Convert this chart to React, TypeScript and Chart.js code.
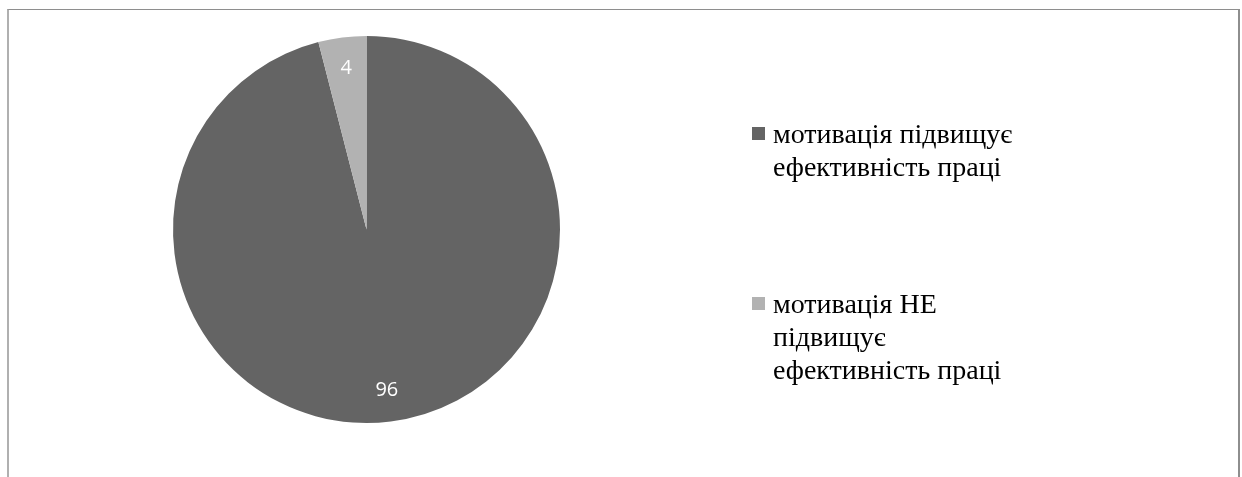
import React, { useEffect, useRef } from "react";
import { Chart, registerables } from "chart.js";

Chart.register(...registerables);

// Survey answers (percent of respondents)
const categories = [
  "мотивація підвищує ефективність праці",
  "мотивація НЕ підвищує ефективність праці",
];
const values = [96, 4];
const sliceColors = ["#646464", "#b2b2b2"];
// How each legend entry wraps onto lines
const legendLines = [
  ["мотивація підвищує", "ефективність праці"],
  ["мотивація НЕ", "підвищує", "ефективність праці"],
];

const W = 1242;
const H = 477;
const LABEL_FONT = '20px "Open Sans"';

// Legend geometry (text baselines of each entry's first line)
const LEGEND_MARK_X = 752;
const LEGEND_TEXT_X = 773;
const LEGEND_LINE_H = 33;
const LEGEND_BASELINES = [143, 313];

// White value labels placed inside each slice
const sliceLabels = {
  id: "sliceLabels",
  afterDatasetsDraw(chart: any) {
    const ctx = chart.ctx;
    const meta = chart.getDatasetMeta(0);
    ctx.save();
    ctx.fillStyle = "#ffffff";
    ctx.font = LABEL_FONT;
    ctx.textAlign = "center";
    ctx.textBaseline = "middle";
    meta.data.forEach((arc: any, i: number) => {
      const p = arc.getProps(["x", "y", "startAngle", "endAngle", "outerRadius"], true);
      const mid = (p.startAngle + p.endAngle) / 2;
      const r = p.outerRadius * 0.84;
      ctx.fillText(String(chart.data.datasets[0].data[i]), p.x + Math.cos(mid) * r, p.y + Math.sin(mid) * r);
    });
    ctx.restore();
  },
};

function Legend() {
  return (
    <div style={{ position: "absolute", left: 0, top: 0, pointerEvents: "none" }}>
      {legendLines.map((lines, i) => (
        <React.Fragment key={categories[i]}>
          <div
            style={{
              position: "absolute",
              left: LEGEND_MARK_X,
              top: LEGEND_BASELINES[i] - 16,
              width: 13,
              height: 13,
              background: sliceColors[i],
            }}
          />
          {lines.map((t, j) => (
            <div
              key={j}
              style={{
                position: "absolute",
                left: LEGEND_TEXT_X,
                top: LEGEND_BASELINES[i] - 26 + j * LEGEND_LINE_H,
                fontFamily: '"Liberation Serif"',
                fontSize: 28,
                lineHeight: LEGEND_LINE_H + "px",
                color: "#000000",
                whiteSpace: "nowrap",
              }}
            >
              {t}
            </div>
          ))}
        </React.Fragment>
      ))}
    </div>
  );
}

export default function App() {
  const ref = useRef<HTMLCanvasElement | null>(null);

  useEffect(() => {
    if (!ref.current) return;
    const chart = new Chart(ref.current, {
      type: "pie",
      data: {
        labels: categories,
        datasets: [
          {
            data: values,
            backgroundColor: sliceColors,
            borderWidth: 0,
          },
        ],
      },
      options: {
        animation: false,
        responsive: false,
        maintainAspectRatio: false,
        layout: { padding: { top: 36, bottom: 54, left: 173, right: 682 } },
        plugins: {
          legend: { display: false },
          tooltip: { enabled: false },
        },
      },
      plugins: [sliceLabels],
    });
    return () => chart.destroy();
  }, []);

  return (
    <div
      style={{
        position: "fixed",
        left: 0,
        top: 0,
        width: W,
        height: H,
        overflow: "hidden",
        background: "#ffffff",
      }}
    >
      <div
        style={{
          position: "absolute",
          left: 7,
          top: 9,
          width: 1233,
          height: 500,
          borderTop: "1px solid #8e8e8e",
          borderRight: "2px solid #8e8e8e",
          borderLeft: "2px solid #b0b0b0",
          boxSizing: "border-box",
        }}
      />
      <canvas
        ref={ref}
        width={W}
        height={H}
        style={{ position: "absolute", left: 0, top: 0, width: W, height: H }}
      />
      <Legend />
    </div>
  );
}
